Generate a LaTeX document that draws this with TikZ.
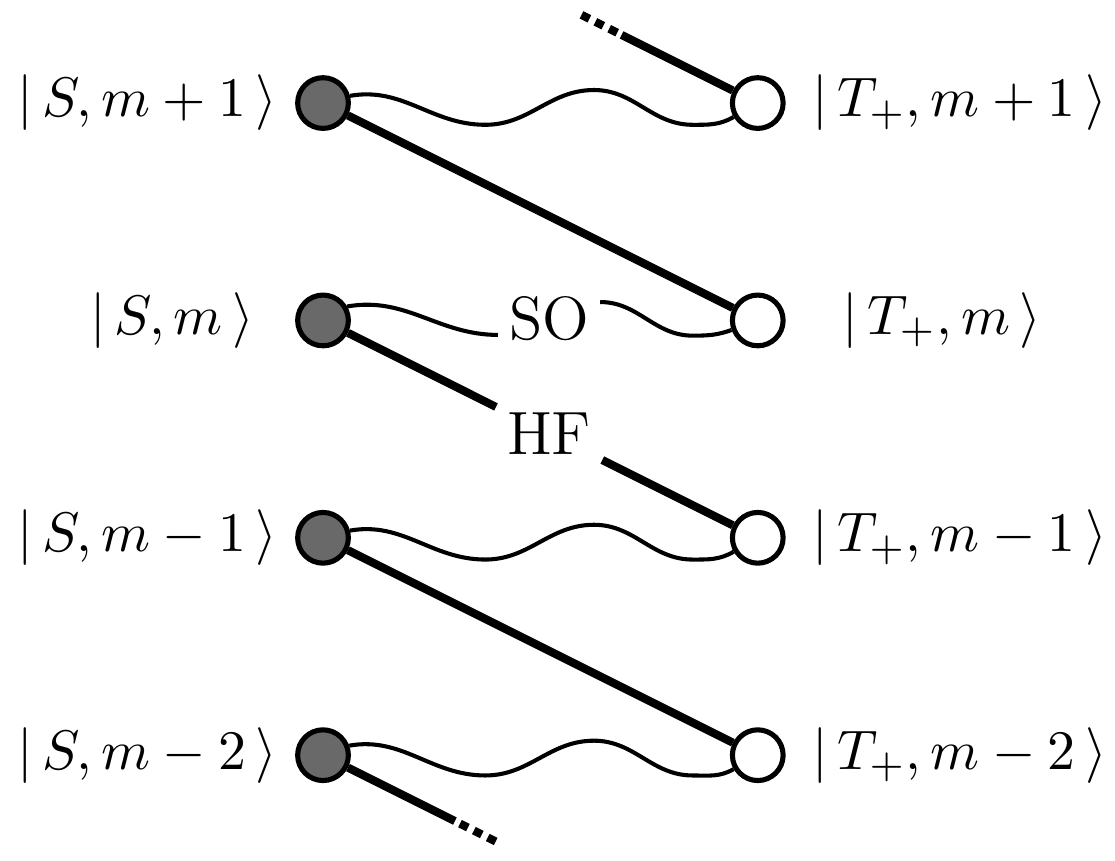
\documentclass[tikz,border=0pt]{standalone}
\usepackage{amsmath}
\usetikzlibrary{calc,positioning}

\begin{document}
\begin{tikzpicture}[
  sing/.style={circle, draw=black, line width=1pt, fill=black!59,
               minimum size=3.5mm, inner sep=0pt},
  trip/.style={sing, fill=white},
  state/.style={font=\fontsize{11}{13}\selectfont},
  wave/.style={thick},
  hf/.style={line width=1.6pt},
  hfdots/.style={hf, dash pattern=on 1.75pt off 1.3pt},
  lbl/.style={font=\large, inner sep=2pt},
]
\useasboundingbox (-2.229,-5.230) rectangle (5.465,0.711);

% ---------- singlet column ----------
\node[sing] (s1) at (0,0) {};
\node[sing] (s2) at (0,-1.5) {};
\node[sing] (s3) at (0,-3) {};
\node[sing] (s4) at (0,-4.5) {};

% ---------- triplet column ----------
\node[trip] (t1) at (3,0) {};
\node[trip] (t2) at (3,-1.5) {};
\node[trip] (t3) at (3,-3) {};
\node[trip] (t4) at (3,-4.5) {};

% ---------- state labels ----------
\node[state, left=0pt of s1] (ls1) {$|\,S,m+1\,\rangle$};
\node[state, left=0.16cm of s2] (ls2) {$|\,S,m\,\rangle$};
\node[state, left=0pt of s3] (ls3) {$|\,S,m-1\,\rangle$};
\node[state, left=0pt of s4] (ls4) {$|\,S,m-2\,\rangle$};
\node[state, right=0.06cm of t1] (lt1) {$|\,T_+,m+1\,\rangle$};
\node[state, right=0.27cm of t2] (lt2) {$|\,T_+,m\,\rangle$};
\node[state, right=0.06cm of t3] (lt3) {$|\,T_+,m-1\,\rangle$};
\node[state, right=0.06cm of t4] (lt4) {$|\,T_+,m-2\,\rangle$};

% ---------- coupling labels ----------
\node[lbl] (so) at ($(s2)!0.52!(t2)+(0,0.01)$) {SO};
\node[lbl] (hfl) at ($(s2)!0.52!(t3)$) {HF};

% ===== SO couplings (wavy) =====
\draw[wave] (s1.15) to[out=10,in=180] ($(s1)+(1.12,-0.15)$)
  to[out=0,in=180] ($(s1)+(1.87,0.09)$)
  to[out=0,in=180] ($(s1)+(2.55,-0.15)$)
  to[out=0,in=210] (t1.210);
\draw[wave] (s2.30) to[out=10,in=180] ($(so.west)+(0,-0.11)$);
\draw[wave] ($(so.east)+(0,0.117)$) to[out=0,in=180] ($(s2)+(2.55,-0.105)$)
  to[out=0,in=200] (t2.200);
\draw[wave] (s3.15) to[out=10,in=180] ($(s3)+(1.12,-0.15)$)
  to[out=0,in=180] ($(s3)+(1.87,0.09)$)
  to[out=0,in=180] ($(s3)+(2.55,-0.15)$)
  to[out=0,in=210] (t3.210);
\draw[wave] (s4.20) to[out=10,in=180] ($(s4)+(1.12,-0.14)$)
  to[out=0,in=180] ($(s4)+(1.87,0.1)$)
  to[out=0,in=180] ($(s4)+(2.55,-0.14)$)
  to[out=0,in=210] (t4.210);

% ===== HF couplings (thick) =====
\coordinate (topcut) at ($(t1)+(-0.94,0.47)$);
\coordinate (topdot) at ($(t1)+(-0.97,0.485)$);
\coordinate (topend) at ($(t1)+(-1.24,0.62)$);
\draw[hf] (t1) -- (topcut);
\draw[hfdots] (topdot) -- (topend);
\draw[hf] (s1) -- (t2);
\draw[hf] (s2) -- (hfl) -- (t3);
\draw[hf] (s3) -- (t4);
\coordinate (botcut) at ($(s4)+(0.91,-0.455)$);
\coordinate (botdot) at ($(s4)+(0.945,-0.472)$);
\coordinate (botend) at ($(s4)+(1.22,-0.61)$);
\draw[hf] (s4) -- (botcut);
\draw[hfdots] (botdot) -- (botend);

\end{tikzpicture}
\end{document}
